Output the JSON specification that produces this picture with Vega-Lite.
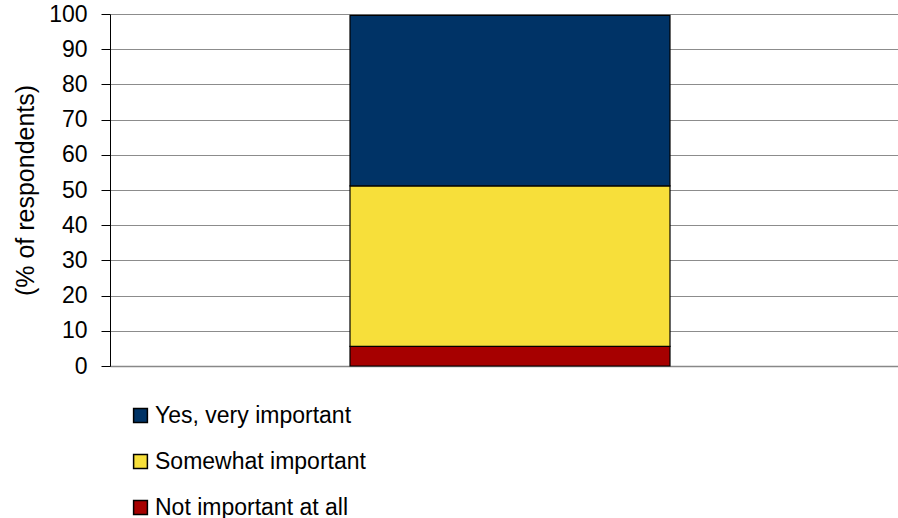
{
  "$schema": "https://vega.github.io/schema/vega-lite/v6.json",
  "autosize": {"type": "none"},
  "padding": {"left": 110, "top": 14, "right": 0, "bottom": 152},
  "width": 800,
  "height": 352,
  "background": "white",
  "config": {
    "font": "Liberation Sans",
    "view": {"stroke": null}
  },
  "data": {
    "values": [
      {"group": "All", "response": "Not important at all", "value": 5.6, "ord": 1},
      {"group": "All", "response": "Somewhat important", "value": 45.6, "ord": 2},
      {"group": "All", "response": "Yes, very important", "value": 48.4, "ord": 3}
    ]
  },
  "mark": {"type": "bar", "stroke": "black", "strokeWidth": 1.2},
  "encoding": {
    "x": {
      "field": "group",
      "type": "nominal",
      "scale": {"paddingInner": 0, "paddingOuter": 0.75},
      "axis": {"title": null, "labels": false, "ticks": false, "domain": true, "domainColor": "#888888", "domainWidth": 1.5}
    },
    "y": {
      "field": "value",
      "type": "quantitative",
      "stack": "zero",
      "scale": {"domain": [0, 100], "nice": false},
      "axis": {
        "title": "(% of respondents)",
        "titleFontSize": 25,
        "titleFontWeight": "normal",
        "titleColor": "black",
        "titlePadding": 10,
        "values": [0, 10, 20, 30, 40, 50, 60, 70, 80, 90, 100],
        "labelFontSize": 23,
        "labelColor": "black",
        "labelPadding": 14,
        "tickSize": 9,
        "tickColor": "black",
        "domainColor": "black",
        "grid": true,
        "gridColor": "#8c8c8c",
        "gridWidth": 1.2
      }
    },
    "color": {
      "field": "response",
      "type": "nominal",
      "scale": {
        "domain": ["Yes, very important", "Somewhat important", "Not important at all"],
        "range": ["#003366", "#F7DF3A", "#A60000"]
      },
      "legend": {
        "title": null,
        "orient": "none",
        "legendX": 19,
        "legendY": 390,
        "direction": "vertical",
        "symbolType": "square",
        "symbolSize": 190,
        "symbolStrokeColor": "black",
        "symbolStrokeWidth": 1.5,
        "symbolOpacity": 1,
        "labelFontSize": 23,
        "labelColor": "black",
        "labelLimit": 0,
        "labelOffset": 3,
        "rowPadding": 22
      }
    },
    "order": {"field": "ord", "type": "quantitative"}
  }
}
